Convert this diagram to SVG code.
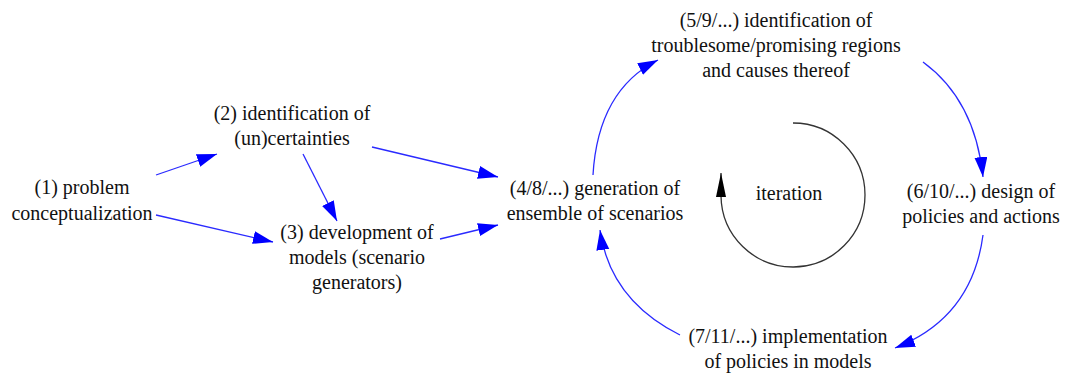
<svg xmlns="http://www.w3.org/2000/svg" width="1067" height="373" viewBox="0 0 1067 373">
<style>
.c{fill:none;stroke:#2a2aff;stroke-width:1.3}
.it{fill:none;stroke:#333;stroke-width:1.3}
</style>
<defs>
<marker id="ab" markerUnits="userSpaceOnUse" markerWidth="22" markerHeight="14" refX="20" refY="6.5" orient="auto">
<path d="M0,0 L20,6.5 L0,13 z" fill="#0000ff"/>
</marker>
<marker id="ak" markerUnits="userSpaceOnUse" markerWidth="26" markerHeight="12" refX="24" refY="5" orient="auto">
<path d="M0,0 L24,5 L0,10 z" fill="#000"/>
</marker>
</defs>
<rect width="1067" height="373" fill="#fff"/>
<g id="connectors">
<path class="c" d="M156,175 L217,154" marker-end="url(#ab)"/>
<path class="c" d="M156,215 L273,242" marker-end="url(#ab)"/>
<path class="c" d="M303,154 L337,221" marker-end="url(#ab)"/>
<path class="c" d="M372,147 L498,177" marker-end="url(#ab)"/>
<path class="c" d="M440,239 L498,225" marker-end="url(#ab)"/>
<path class="c" d="M593,175 Q598,90 658,60" marker-end="url(#ab)"/>
<path class="c" d="M923,62 Q975,100 983,177" marker-end="url(#ab)"/>
<path class="c" d="M983,235 Q972,318 895,348" marker-end="url(#ab)"/>
<path class="c" d="M680,335 Q610,300 600,230" marker-end="url(#ab)"/>
</g>
<g font-family="Liberation Serif" font-size="20" fill="#111" text-anchor="middle">
<g id="iteration">
<path class="it" d="M793,123 A72,72 0 1 1 721,196 L721,173" marker-end="url(#ak)"/>
<text x="789" y="200">iteration</text>
</g>
<g id="n1"><text x="82" y="194">(1) problem</text><text x="82" y="220">conceptualization</text></g>
<g id="n2"><text x="292" y="120">(2) identification of</text><text x="292" y="145">(un)certainties</text></g>
<g id="n3"><text x="357" y="239">(3) development of</text><text x="357" y="264">models (scenario</text><text x="357" y="289">generators)</text></g>
<g id="n4"><text x="595" y="195">(4/8/...) generation of</text><text x="595" y="220">ensemble of scenarios</text></g>
<g id="n5"><text x="776" y="27">(5/9/...) identification of</text><text x="776" y="52">troublesome/promising regions</text><text x="776" y="77">and causes thereof</text></g>
<g id="n6"><text x="981" y="198">(6/10/...) design of</text><text x="981" y="223">policies and actions</text></g>
<g id="n7"><text x="788" y="343">(7/11/...) implementation</text><text x="788" y="368">of policies in models</text></g>
</g>
</svg>
